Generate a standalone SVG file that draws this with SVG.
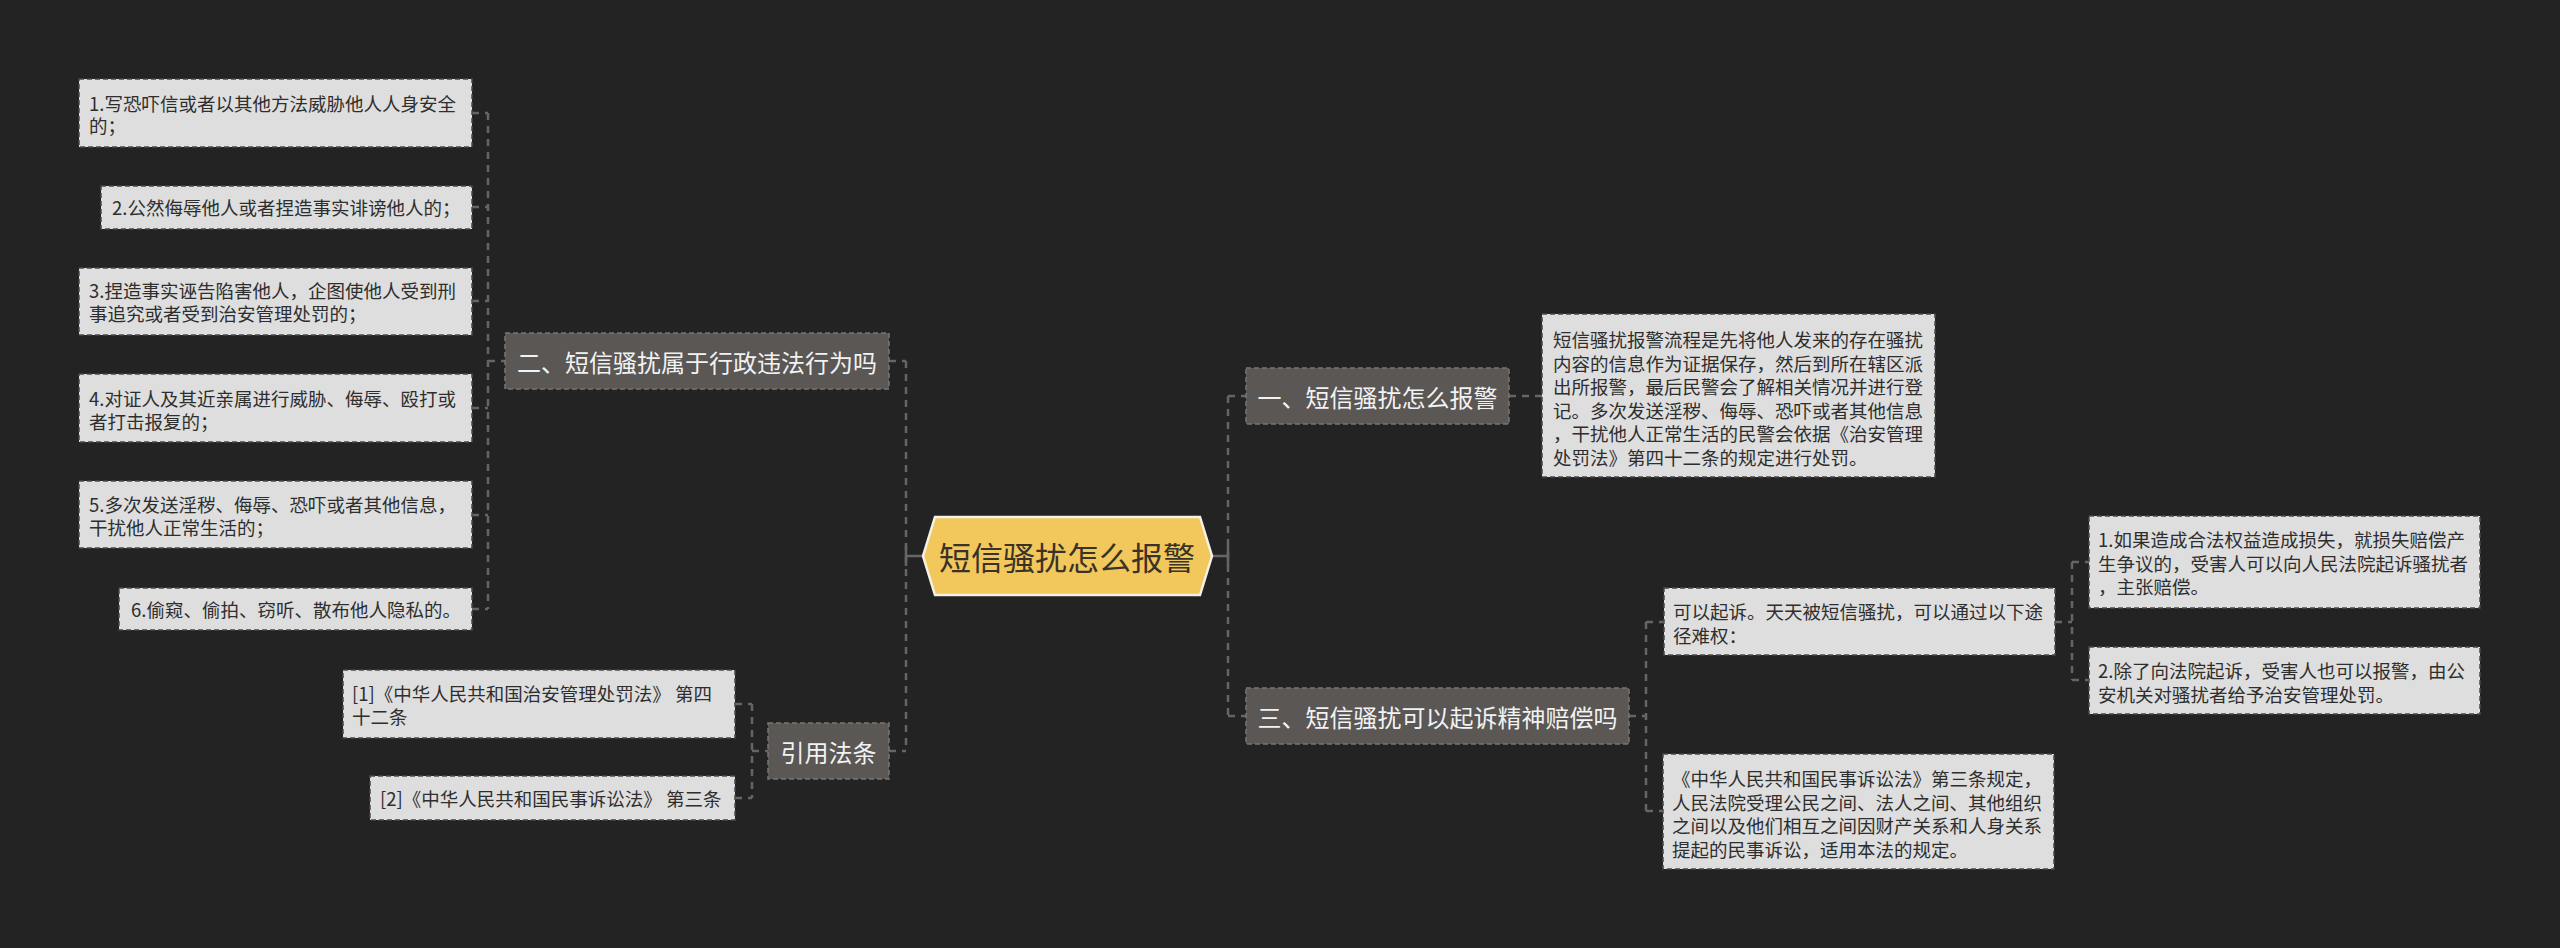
<svg xmlns="http://www.w3.org/2000/svg" width="2560" height="948" viewBox="0 0 2560 948">
<style>
.bg{fill:#232323}
.box{fill:#dedede;stroke:#4a4a4a;stroke-width:1.5;stroke-dasharray:5 3}
.node{fill:#5a5755;stroke:#787572;stroke-width:1.5;stroke-dasharray:5 3}
.t{font-family:"Noto Sans CJK SC","Noto Sans",sans-serif;font-size:18.5px;fill:#2e2e2e;dominant-baseline:central}
.nt{font-family:"Noto Sans CJK SC","Noto Sans",sans-serif;font-size:24px;fill:#f2f2f2;dominant-baseline:central;text-anchor:middle}
.ct{font-family:"Noto Sans CJK SC","Noto Sans",sans-serif;font-size:32px;fill:#3a3226;dominant-baseline:central;text-anchor:middle}
.c{fill:none;stroke:#656565;stroke-width:2.5;stroke-dasharray:7 6}
.cs{fill:none;stroke:#656565;stroke-width:2.5}
</style>
<rect class="bg" x="0" y="0" width="2560" height="948"/>
<g id="connectors">
  <path class="c" d="M472 113H488M472 207H488M472 301H488M472 408H488M472 515H488M472 609H488M488 113V609M488 361H505"/>
  <path class="c" d="M889 361H906M906 361V751M889 751H906"/>
  <path class="cs" d="M906 556H923M906 546V566"/>
  <path class="c" d="M752 751H768M752 704V798M735 704H752M735 798H752"/>
  <path class="cs" d="M1212 556H1228M1228 546V566"/>
  <path class="c" d="M1228 396V716M1228 396H1246M1228 716H1246"/>
  <path class="c" d="M1509 396H1542"/>
  <path class="c" d="M1629 716H1646M1646 622V811M1646 622H1664M1646 811H1663"/>
  <path class="c" d="M2055 622H2072M2072 562V680M2072 562H2089M2072 680H2089"/>
</g>
<g id="center">
  <polygon points="923,556 935,517 1200,517 1212,556 1200,595 935,595" fill="#f2c75c" stroke="#f5f1e6" stroke-width="2.5"/>
  <text class="ct" x="1067" y="556">短信骚扰怎么报警</text>
</g>
<g id="n2">
  <rect class="node" x="505" y="333" width="384" height="56"/>
  <text class="nt" x="697" y="361">二、短信骚扰属于行政违法行为吗</text>
</g>
<g id="n2-1">
  <rect class="box" x="79" y="79" width="393" height="68"/>
  <text class="t" x="89" y="103">1.写恐吓信或者以其他方法威胁他人人身安全</text>
  <text class="t" x="89" y="125">的；</text>
</g>
<g id="n2-2">
  <rect class="box" x="101" y="186" width="371" height="43"/>
  <text class="t" x="112" y="207">2.公然侮辱他人或者捏造事实诽谤他人的；</text>
</g>
<g id="n2-3">
  <rect class="box" x="79" y="268" width="393" height="67"/>
  <text class="t" x="89" y="290">3.捏造事实诬告陷害他人，企图使他人受到刑</text>
  <text class="t" x="89" y="313">事追究或者受到治安管理处罚的；</text>
</g>
<g id="n2-4">
  <rect class="box" x="79" y="374" width="393" height="68"/>
  <text class="t" x="89" y="398">4.对证人及其近亲属进行威胁、侮辱、殴打或</text>
  <text class="t" x="89" y="421">者打击报复的；</text>
</g>
<g id="n2-5">
  <rect class="box" x="79" y="481" width="393" height="67"/>
  <text class="t" x="89" y="504">5.多次发送淫秽、侮辱、恐吓或者其他信息，</text>
  <text class="t" x="89" y="527">干扰他人正常生活的；</text>
</g>
<g id="n2-6">
  <rect class="box" x="119" y="588" width="353" height="42"/>
  <text class="t" x="131" y="609">6.偷窥、偷拍、窃听、散布他人隐私的。</text>
</g>
<g id="n4">
  <rect class="node" x="768" y="723" width="121" height="56"/>
  <text class="nt" x="828.5" y="751">引用法条</text>
</g>
<g id="n4-1">
  <rect class="box" x="343" y="670" width="392" height="68"/>
  <text class="t" x="352" y="693">[1]《中华人民共和国治安管理处罚法》 第四</text>
  <text class="t" x="352" y="716">十二条</text>
</g>
<g id="n4-2">
  <rect class="box" x="370" y="776" width="365" height="44"/>
  <text class="t" x="380" y="798">[2]《中华人民共和国民事诉讼法》 第三条</text>
</g>
<g id="n1">
  <rect class="node" x="1246" y="368" width="263" height="56"/>
  <text class="nt" x="1377.5" y="396">一、短信骚扰怎么报警</text>
</g>
<g id="n1-1">
  <rect class="box" x="1542" y="314" width="393" height="163"/>
  <text class="t" x="1553" y="339">短信骚扰报警流程是先将他人发来的存在骚扰</text>
  <text class="t" x="1553" y="362.5">内容的信息作为证据保存，然后到所在辖区派</text>
  <text class="t" x="1553" y="386">出所报警，最后民警会了解相关情况并进行登</text>
  <text class="t" x="1553" y="409.5">记。多次发送淫秽、侮辱、恐吓或者其他信息</text>
  <text class="t" x="1553" y="433">，干扰他人正常生活的民警会依据《治安管理</text>
  <text class="t" x="1553" y="456.5">处罚法》第四十二条的规定进行处罚。</text>
</g>
<g id="n3">
  <rect class="node" x="1246" y="688" width="383" height="56"/>
  <text class="nt" x="1437.5" y="716">三、短信骚扰可以起诉精神赔偿吗</text>
</g>
<g id="n3-1">
  <rect class="box" x="1664" y="588" width="391" height="67"/>
  <text class="t" x="1673" y="611">可以起诉。天天被短信骚扰，可以通过以下途</text>
  <text class="t" x="1673" y="634.5">径难权：</text>
</g>
<g id="n3-1-1">
  <rect class="box" x="2089" y="516" width="391" height="92"/>
  <text class="t" x="2098" y="539">1.如果造成合法权益造成损失，就损失赔偿产</text>
  <text class="t" x="2098" y="562.5">生争议的，受害人可以向人民法院起诉骚扰者</text>
  <text class="t" x="2098" y="586">，主张赔偿。</text>
</g>
<g id="n3-1-2">
  <rect class="box" x="2089" y="647" width="391" height="67"/>
  <text class="t" x="2098" y="670">2.除了向法院起诉，受害人也可以报警，由公</text>
  <text class="t" x="2098" y="693.5">安机关对骚扰者给予治安管理处罚。</text>
</g>
<g id="n3-2">
  <rect class="box" x="1663" y="754" width="391" height="115"/>
  <text class="t" x="1672" y="778">《中华人民共和国民事诉讼法》第三条规定，</text>
  <text class="t" x="1672" y="801.5">人民法院受理公民之间、法人之间、其他组织</text>
  <text class="t" x="1672" y="825">之间以及他们相互之间因财产关系和人身关系</text>
  <text class="t" x="1672" y="848.5">提起的民事诉讼，适用本法的规定。</text>
</g>
</svg>
